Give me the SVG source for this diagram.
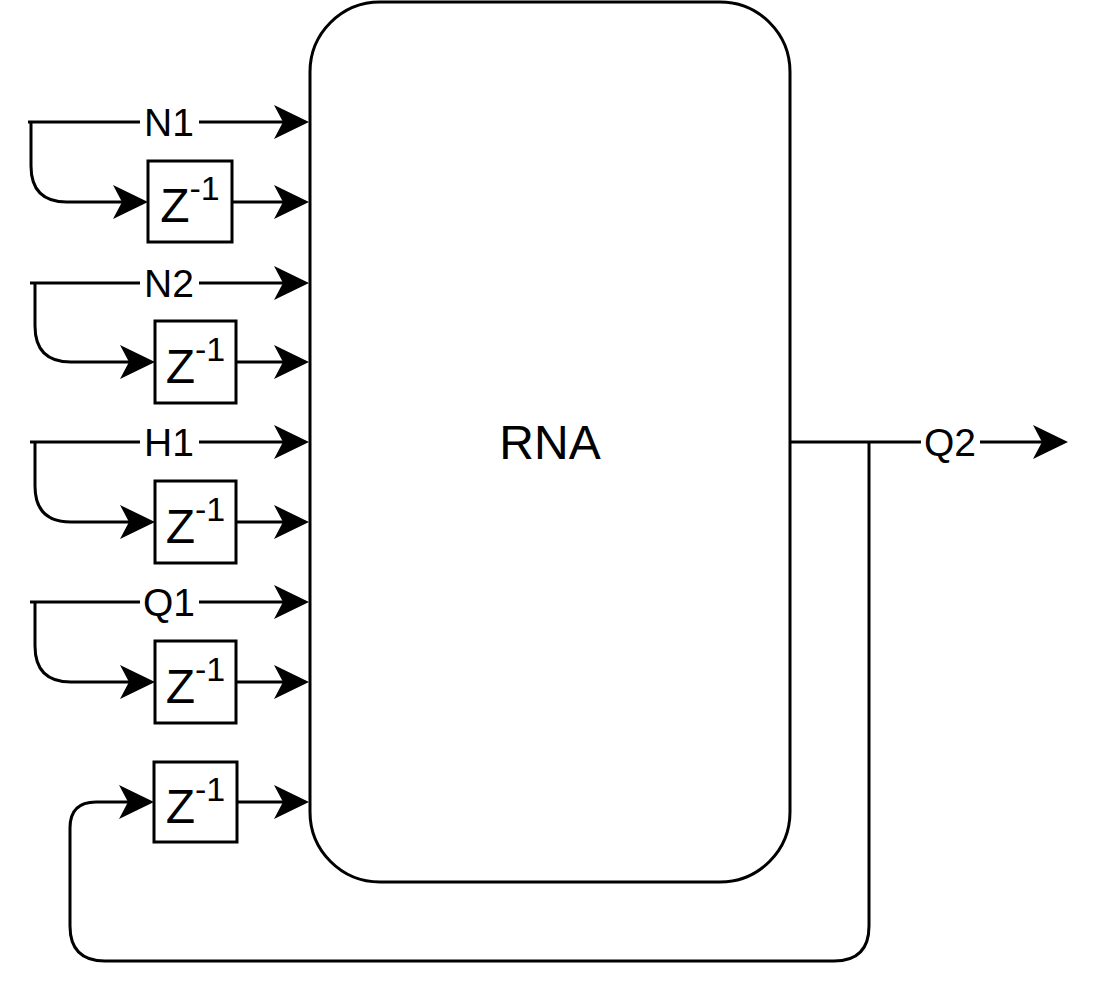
<svg xmlns="http://www.w3.org/2000/svg" width="1104" height="996" viewBox="0 0 1104 996">
<style>
.ln{fill:none;stroke:#000;stroke-width:3}
.bx{fill:#fff;stroke:#000;stroke-width:3}
.lbl{font-family:"Liberation Sans",Arial,sans-serif;font-size:39px;fill:#000;text-anchor:middle}
.z{font-family:"Liberation Sans",Arial,sans-serif;font-size:48px;fill:#000;text-anchor:middle}
.sup{font-size:34px}
.bg{fill:#fff;stroke:none}
</style>
<defs>
<marker id="arr" markerUnits="userSpaceOnUse" viewBox="0 -18 36 36" markerWidth="36" markerHeight="36" refX="15" refY="0" orient="auto">
<path d="M0,-17 L35,0 L0,17 L9,0 Z" fill="#000"/>
</marker>
</defs>
<rect width="1104" height="996" fill="#fff"/>
<g id="RNA">
<rect class="bx" x="310" y="2" width="480" height="880" rx="70" ry="70"/>
<text class="z" x="550" y="459">RNA</text>
</g>
<g id="connectors">
<path class="ln" d="M28,122 L289,122" marker-end="url(#arr)"/>
<path class="ln" d="M31,122 L31,166 Q31,202 67,202 L128,202" marker-end="url(#arr)"/>
<path class="ln" d="M232,202 L289,202" marker-end="url(#arr)"/>
<path class="ln" d="M30,283 L289,283" marker-end="url(#arr)"/>
<path class="ln" d="M35,283 L35,326 Q35,362 71,362 L135,362" marker-end="url(#arr)"/>
<path class="ln" d="M236,362 L289,362" marker-end="url(#arr)"/>
<path class="ln" d="M30,442 L289,442" marker-end="url(#arr)"/>
<path class="ln" d="M35,442 L35,486 Q35,522 71,522 L135,522" marker-end="url(#arr)"/>
<path class="ln" d="M236,522 L289,522" marker-end="url(#arr)"/>
<path class="ln" d="M30,602 L289,602" marker-end="url(#arr)"/>
<path class="ln" d="M35,602 L35,646 Q35,682 71,682 L135,682" marker-end="url(#arr)"/>
<path class="ln" d="M236,682 L289,682" marker-end="url(#arr)"/>
<path class="ln" d="M237,802 L289,802" marker-end="url(#arr)"/>
<path class="ln" d="M791,442 L1048,442" marker-end="url(#arr)"/>
<path class="ln" d="M869,442 L869,926 Q869,961 834,961 L105,961 Q70,961 70,926 L70,828 Q70,802 96,802 L134,802" marker-end="url(#arr)"/>
<rect class="bg" x="140" y="104" width="59" height="36"/>
<text class="lbl" x="169" y="136">N1</text>
<rect class="bg" x="140" y="265" width="59" height="36"/>
<text class="lbl" x="169" y="297">N2</text>
<rect class="bg" x="140" y="424" width="59" height="36"/>
<text class="lbl" x="169" y="456">H1</text>
<rect class="bg" x="140" y="584" width="59" height="36"/>
<text class="lbl" x="169" y="616">Q1</text>
<rect class="bg" x="921" y="424" width="59" height="36"/>
<text class="lbl" x="950" y="456">Q2</text>
</g>
<g id="z1">
<rect class="bx" x="148" y="161" width="84" height="81"/>
<text class="z" x="190" y="222">Z<tspan class="sup" dy="-22">-1</tspan></text>
</g>
<g id="z2">
<rect class="bx" x="155" y="321" width="81" height="82"/>
<text class="z" x="195.5" y="382.5">Z<tspan class="sup" dy="-22">-1</tspan></text>
</g>
<g id="z3">
<rect class="bx" x="155" y="481" width="81" height="82"/>
<text class="z" x="195.5" y="542.5">Z<tspan class="sup" dy="-22">-1</tspan></text>
</g>
<g id="z4">
<rect class="bx" x="155" y="641" width="81" height="82"/>
<text class="z" x="195.5" y="702.5">Z<tspan class="sup" dy="-22">-1</tspan></text>
</g>
<g id="z5">
<rect class="bx" x="154" y="762" width="83" height="80"/>
<text class="z" x="195.5" y="822.5">Z<tspan class="sup" dy="-22">-1</tspan></text>
</g>
</svg>
